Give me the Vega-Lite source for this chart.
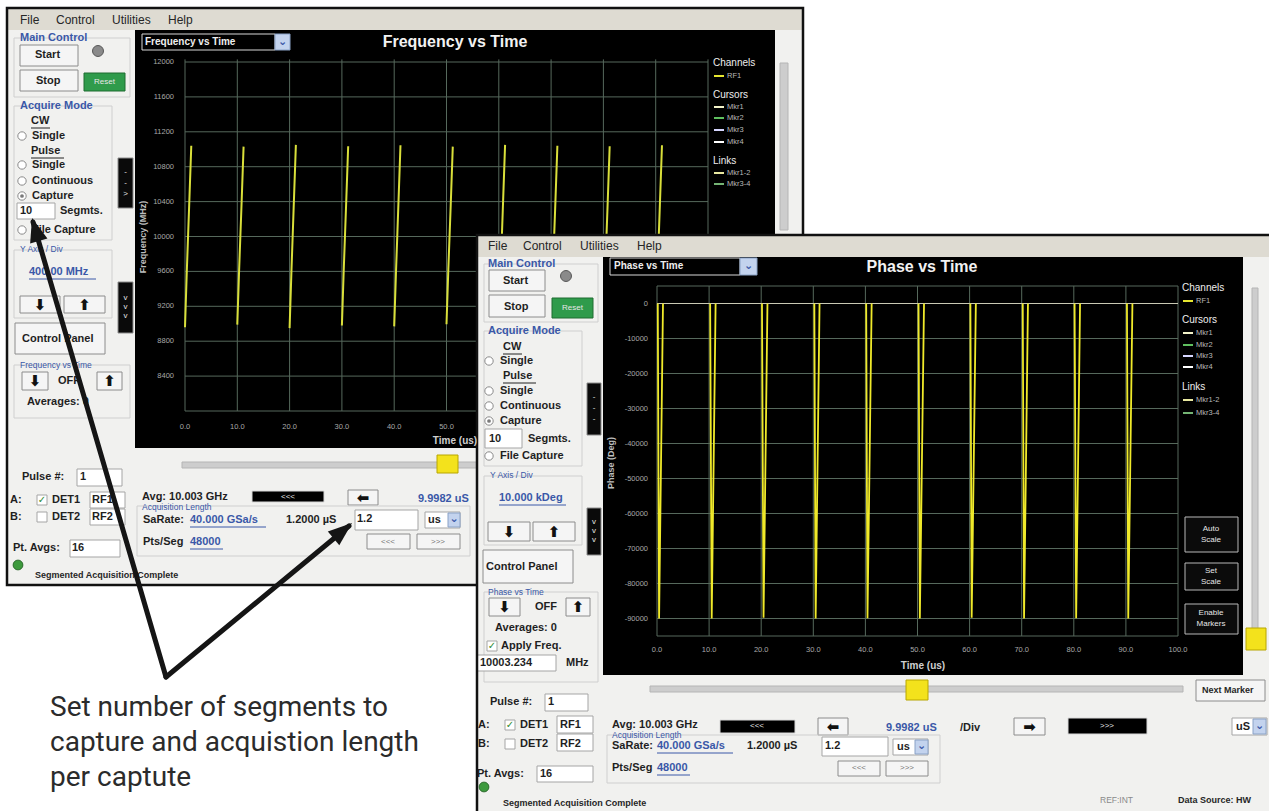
{
"$schema":"https://vega.github.io/schema/vega-lite/v6.json",
"width":1269,"height":811,"padding":0,"autosize":{"type":"none"},
"background":"#ffffff",
"config":{"view":{"stroke":null},"font":"Liberation Sans"},
"resolve":{"scale":{"x":"independent","y":"independent","color":"independent","stroke":"independent"}},
"datasets":{
"w1_rects":[
{"x":7,"y":8,"x2":803,"y2":585,"k":"win"},
{"x":8,"y":9,"x2":802,"y2":30,"k":"menu"},
{"x":135,"y":30,"x2":775,"y2":448,"k":"plot"},
{"x":780,"y":63,"x2":788,"y2":230,"k":"track"},
{"x":14,"y":38,"x2":130,"y2":97,"k":"grp"},
{"x":14,"y":106,"x2":112,"y2":240,"k":"grp"},
{"x":14,"y":250,"x2":112,"y2":318,"k":"grp"},
{"x":14,"y":365,"x2":130,"y2":418,"k":"grp"},
{"x":20,"y":45,"x2":78,"y2":66,"k":"btn"},
{"x":20,"y":70,"x2":78,"y2":91,"k":"btn"},
{"x":84,"y":73,"x2":125,"y2":91,"k":"green"},
{"x":17,"y":203,"x2":55,"y2":219,"k":"input"},
{"x":20,"y":296,"x2":60,"y2":313,"k":"btn"},
{"x":64,"y":296,"x2":105,"y2":313,"k":"btn"},
{"x":15,"y":323,"x2":105,"y2":354,"k":"btn"},
{"x":22,"y":372,"x2":48,"y2":390,"k":"btn"},
{"x":97,"y":372,"x2":122,"y2":390,"k":"btn"},
{"x":77,"y":469,"x2":122,"y2":486,"k":"input"},
{"x":37,"y":495,"x2":47,"y2":505,"k":"input"},
{"x":37,"y":512,"x2":47,"y2":522,"k":"input"},
{"x":90,"y":492,"x2":125,"y2":508,"k":"input"},
{"x":90,"y":509,"x2":125,"y2":525,"k":"input"},
{"x":70,"y":540,"x2":120,"y2":557,"k":"input"},
{"x":118,"y":158,"x2":133,"y2":208,"k":"tab"},
{"x":118,"y":282,"x2":133,"y2":333,"k":"tab"},
{"x":142,"y":34,"x2":275,"y2":50,"k":"dark"},
{"x":275,"y":34,"x2":290,"y2":50,"k":"dd"},
{"x":182,"y":462,"x2":800,"y2":468,"k":"track"},
{"x":437,"y":455,"x2":458,"y2":473,"k":"thumb"},
{"x":252,"y":491,"x2":324,"y2":502,"k":"dark"},
{"x":348,"y":490,"x2":378,"y2":505,"k":"btn"},
{"x":137,"y":506,"x2":470,"y2":556,"k":"grp"},
{"x":355,"y":510,"x2":418,"y2":530,"k":"input"},
{"x":425,"y":512,"x2":460,"y2":528,"k":"input"},
{"x":448,"y":513,"x2":460,"y2":527,"k":"dd"},
{"x":367,"y":534,"x2":410,"y2":549,"k":"btn"},
{"x":417,"y":534,"x2":460,"y2":549,"k":"btn"}
],
"w2_rects":[
{"x":477,"y":235,"x2":1275,"y2":815,"k":"win"},
{"x":478,"y":236,"x2":1269,"y2":257,"k":"menu"},
{"x":603,"y":257,"x2":1243,"y2":675,"k":"plot"},
{"x":1252,"y":288,"x2":1258,"y2":642,"k":"track"},
{"x":1246,"y":628,"x2":1266,"y2":650,"k":"thumb"},
{"x":484,"y":264,"x2":598,"y2":322,"k":"grp"},
{"x":484,"y":331,"x2":582,"y2":466,"k":"grp"},
{"x":484,"y":476,"x2":582,"y2":545,"k":"grp"},
{"x":484,"y":592,"x2":598,"y2":682,"k":"grp"},
{"x":489,"y":270,"x2":545,"y2":291,"k":"btn"},
{"x":489,"y":295,"x2":545,"y2":317,"k":"btn"},
{"x":552,"y":298,"x2":593,"y2":318,"k":"green"},
{"x":485,"y":429,"x2":522,"y2":448,"k":"input"},
{"x":488,"y":522,"x2":530,"y2":541,"k":"btn"},
{"x":533,"y":522,"x2":575,"y2":541,"k":"btn"},
{"x":483,"y":550,"x2":573,"y2":583,"k":"btn"},
{"x":489,"y":598,"x2":520,"y2":616,"k":"btn"},
{"x":566,"y":598,"x2":590,"y2":616,"k":"btn"},
{"x":487,"y":641,"x2":497,"y2":651,"k":"input"},
{"x":477,"y":655,"x2":556,"y2":671,"k":"input"},
{"x":545,"y":694,"x2":588,"y2":711,"k":"input"},
{"x":505,"y":720,"x2":515,"y2":730,"k":"input"},
{"x":505,"y":739,"x2":515,"y2":749,"k":"input"},
{"x":557,"y":716,"x2":593,"y2":733,"k":"input"},
{"x":557,"y":734,"x2":593,"y2":751,"k":"input"},
{"x":537,"y":766,"x2":593,"y2":782,"k":"input"},
{"x":587,"y":383,"x2":601,"y2":435,"k":"tab"},
{"x":587,"y":508,"x2":601,"y2":555,"k":"tab"},
{"x":610,"y":258,"x2":740,"y2":275,"k":"dark"},
{"x":740,"y":258,"x2":757,"y2":275,"k":"dd"},
{"x":650,"y":686,"x2":1183,"y2":692,"k":"track"},
{"x":906,"y":680,"x2":928,"y2":700,"k":"thumb"},
{"x":1196,"y":680,"x2":1265,"y2":701,"k":"btn"},
{"x":720,"y":720,"x2":795,"y2":733,"k":"dark"},
{"x":818,"y":718,"x2":848,"y2":735,"k":"btn"},
{"x":1014,"y":718,"x2":1045,"y2":735,"k":"btn"},
{"x":1068,"y":718,"x2":1147,"y2":734,"k":"dark"},
{"x":1232,"y":718,"x2":1267,"y2":735,"k":"input"},
{"x":1253,"y":719,"x2":1266,"y2":734,"k":"dd"},
{"x":607,"y":735,"x2":940,"y2":783,"k":"grp"},
{"x":822,"y":737,"x2":888,"y2":756,"k":"input"},
{"x":893,"y":739,"x2":928,"y2":755,"k":"input"},
{"x":915,"y":740,"x2":928,"y2":754,"k":"dd"},
{"x":838,"y":761,"x2":880,"y2":776,"k":"btn"},
{"x":886,"y":761,"x2":928,"y2":776,"k":"btn"},
{"x":1185,"y":517,"x2":1238,"y2":552,"k":"pbtn"},
{"x":1185,"y":563,"x2":1238,"y2":590,"k":"pbtn"},
{"x":1185,"y":604,"x2":1238,"y2":634,"k":"pbtn"}
],
"tgrid":[{"t":0,"lab":"0.0"},{"t":10,"lab":"10.0"},{"t":20,"lab":"20.0"},{"t":30,"lab":"30.0"},{"t":40,"lab":"40.0"},{"t":50,"lab":"50.0"},{"t":60,"lab":"60.0"},{"t":70,"lab":"70.0"},{"t":80,"lab":"80.0"},{"t":90,"lab":"90.0"},{"t":100,"lab":"100.0"}],
"fgrid":[{"f":8000,"lab":""},{"f":8400,"lab":"8400"},{"f":8800,"lab":"8800"},{"f":9200,"lab":"9200"},{"f":9600,"lab":"9600"},{"f":10000,"lab":"10000"},{"f":10400,"lab":"10400"},{"f":10800,"lab":"10800"},{"f":11200,"lab":"11200"},{"f":11600,"lab":"11600"},{"f":12000,"lab":"12000"}],
"pgrid":[{"p":-95000,"lab":""},{"p":-90000,"lab":"-90000"},{"p":-80000,"lab":"-80000"},{"p":-70000,"lab":"-70000"},{"p":-60000,"lab":"-60000"},{"p":-50000,"lab":"-50000"},{"p":-40000,"lab":"-40000"},{"p":-30000,"lab":"-30000"},{"p":-20000,"lab":"-20000"},{"p":-10000,"lab":"-10000"},{"p":5000,"lab":""}],
"freq":[
{"s":0,"t":0,"f":8960},{"s":0,"t":0.35,"f":9610},{"s":0,"t":0.8,"f":10360},{"s":0,"t":1.2,"f":11040},
{"s":1,"t":10,"f":8990},{"s":1,"t":10.35,"f":9620},{"s":1,"t":10.8,"f":10350},{"s":1,"t":11.2,"f":11030},
{"s":2,"t":20,"f":8950},{"s":2,"t":20.35,"f":9600},{"s":2,"t":20.8,"f":10370},{"s":2,"t":21.2,"f":11050},
{"s":3,"t":30,"f":8980},{"s":3,"t":30.35,"f":9615},{"s":3,"t":30.8,"f":10355},{"s":3,"t":31.2,"f":11035},
{"s":4,"t":40,"f":8970},{"s":4,"t":40.35,"f":9605},{"s":4,"t":40.8,"f":10365},{"s":4,"t":41.2,"f":11045},
{"s":5,"t":50,"f":8995},{"s":5,"t":50.35,"f":9625},{"s":5,"t":50.8,"f":10350},{"s":5,"t":51.2,"f":11030},
{"s":6,"t":60,"f":8960},{"s":6,"t":60.35,"f":9600},{"s":6,"t":60.8,"f":10370},{"s":6,"t":61.2,"f":11050},
{"s":7,"t":70,"f":8985},{"s":7,"t":70.35,"f":9615},{"s":7,"t":70.8,"f":10360},{"s":7,"t":71.2,"f":11040},
{"s":8,"t":80,"f":8975},{"s":8,"t":80.35,"f":9610},{"s":8,"t":80.8,"f":10355},{"s":8,"t":81.2,"f":11035},
{"s":9,"t":90,"f":8965},{"s":9,"t":90.35,"f":9605},{"s":9,"t":90.8,"f":10365},{"s":9,"t":91.2,"f":11045}
],
"phase":[
{"s":0,"t":0.15,"p":0},{"s":0,"t":0.4,"p":-90000},{"s":0,"t":1.15,"p":0},
{"s":1,"t":10.2,"p":0},{"s":1,"t":10.5,"p":-90000},{"s":1,"t":11.25,"p":0},
{"s":2,"t":20.15,"p":0},{"s":2,"t":20.45,"p":-89800},{"s":2,"t":21.2,"p":0},
{"s":3,"t":30.2,"p":0},{"s":3,"t":30.45,"p":-90000},{"s":3,"t":31.2,"p":0},
{"s":4,"t":40.15,"p":0},{"s":4,"t":40.4,"p":-89900},{"s":4,"t":41.2,"p":0},
{"s":5,"t":50.2,"p":0},{"s":5,"t":50.45,"p":-90000},{"s":5,"t":51.25,"p":0},
{"s":6,"t":60.15,"p":0},{"s":6,"t":60.4,"p":-89800},{"s":6,"t":61.2,"p":0},
{"s":7,"t":70.2,"p":0},{"s":7,"t":70.45,"p":-90000},{"s":7,"t":71.2,"p":0},
{"s":8,"t":80.15,"p":0},{"s":8,"t":80.45,"p":-89900},{"s":8,"t":81.2,"p":0},
{"s":9,"t":90.2,"p":0},{"s":9,"t":90.45,"p":-90000},{"s":9,"t":91.25,"p":0}
],
"leg_lines":[
{"x":714,"xe":724,"y":76,"c":"RF1"},{"x":714,"xe":724,"y":107,"c":"Mkr1"},{"x":714,"xe":724,"y":118,"c":"Mkr2"},{"x":714,"xe":724,"y":130,"c":"Mkr3"},{"x":714,"xe":724,"y":142,"c":"Mkr4"},{"x":714,"xe":724,"y":173,"c":"Mkr1-2"},{"x":714,"xe":724,"y":184,"c":"Mkr3-4"},
{"x":1183,"xe":1193,"y":301,"c":"RF1"},{"x":1183,"xe":1193,"y":333,"c":"Mkr1"},{"x":1183,"xe":1193,"y":345,"c":"Mkr2"},{"x":1183,"xe":1193,"y":356,"c":"Mkr3"},{"x":1183,"xe":1193,"y":367,"c":"Mkr4"},{"x":1183,"xe":1193,"y":400,"c":"Mkr1-2"},{"x":1183,"xe":1193,"y":413,"c":"Mkr3-4"}
],
"leg_items":[
{"x":727,"y":76,"s":"RF1"},{"x":727,"y":107,"s":"Mkr1"},{"x":727,"y":118,"s":"Mkr2"},{"x":727,"y":130,"s":"Mkr3"},{"x":727,"y":142,"s":"Mkr4"},{"x":727,"y":173,"s":"Mkr1-2"},{"x":727,"y":184,"s":"Mkr3-4"},
{"x":1196,"y":301,"s":"RF1"},{"x":1196,"y":333,"s":"Mkr1"},{"x":1196,"y":345,"s":"Mkr2"},{"x":1196,"y":356,"s":"Mkr3"},{"x":1196,"y":367,"s":"Mkr4"},{"x":1196,"y":400,"s":"Mkr1-2"},{"x":1196,"y":413,"s":"Mkr3-4"}
],
"leg_heads":[
{"x":713,"y":63,"s":"Channels"},{"x":713,"y":95,"s":"Cursors"},{"x":713,"y":161,"s":"Links"},
{"x":1182,"y":288,"s":"Channels"},{"x":1182,"y":320,"s":"Cursors"},{"x":1182,"y":387,"s":"Links"}
],
"t_bold":[
{"x":35,"y":55,"s":"Start"},{"x":36,"y":81,"s":"Stop"},{"x":31,"y":121,"s":"CW"},{"x":32,"y":136,"s":"Single"},{"x":31,"y":151,"s":"Pulse"},{"x":32,"y":165,"s":"Single"},{"x":32,"y":181,"s":"Continuous"},{"x":32,"y":196,"s":"Capture"},{"x":20,"y":211,"s":"10"},{"x":60,"y":211,"s":"Segmts."},{"x":32,"y":230,"s":"File Capture"},{"x":22,"y":339,"s":"Control Panel"},{"x":58,"y":381,"s":"OFF"},{"x":27,"y":402,"s":"Averages: 0"},{"x":22,"y":477,"s":"Pulse #:"},{"x":80,"y":477,"s":"1"},{"x":10,"y":500,"s":"A:"},{"x":52,"y":500,"s":"DET1"},{"x":92,"y":500,"s":"RF1"},{"x":10,"y":517,"s":"B:"},{"x":52,"y":517,"s":"DET2"},{"x":92,"y":517,"s":"RF2"},{"x":13,"y":548,"s":"Pt. Avgs:"},{"x":72,"y":548,"s":"16"},{"x":142,"y":497,"s":"Avg: 10.003 GHz"},{"x":143,"y":520,"s":"SaRate:"},{"x":286,"y":520,"s":"1.2000 µS"},{"x":357,"y":519,"s":"1.2"},{"x":428,"y":520,"s":"us"},{"x":143,"y":542,"s":"Pts/Seg"},
{"x":503,"y":281,"s":"Start"},{"x":504,"y":307,"s":"Stop"},{"x":503,"y":347,"s":"CW"},{"x":500,"y":361,"s":"Single"},{"x":503,"y":376,"s":"Pulse"},{"x":500,"y":391,"s":"Single"},{"x":500,"y":406,"s":"Continuous"},{"x":500,"y":421,"s":"Capture"},{"x":489,"y":439,"s":"10"},{"x":528,"y":439,"s":"Segmts."},{"x":500,"y":456,"s":"File Capture"},{"x":486,"y":567,"s":"Control Panel"},{"x":535,"y":607,"s":"OFF"},{"x":495,"y":628,"s":"Averages: 0"},{"x":501,"y":646,"s":"Apply Freq."},{"x":480,"y":663,"s":"10003.234"},{"x":566,"y":663,"s":"MHz"},{"x":490,"y":702,"s":"Pulse #:"},{"x":548,"y":702,"s":"1"},{"x":478,"y":725,"s":"A:"},{"x":520,"y":725,"s":"DET1"},{"x":560,"y":725,"s":"RF1"},{"x":478,"y":744,"s":"B:"},{"x":520,"y":744,"s":"DET2"},{"x":560,"y":744,"s":"RF2"},{"x":477,"y":774,"s":"Pt. Avgs:"},{"x":540,"y":774,"s":"16"},{"x":612,"y":725,"s":"Avg: 10.003 GHz"},{"x":612,"y":746,"s":"SaRate:"},{"x":747,"y":746,"s":"1.2000 µS"},{"x":825,"y":746,"s":"1.2"},{"x":897,"y":747,"s":"us"},{"x":612,"y":768,"s":"Pts/Seg"},{"x":960,"y":728,"s":"/Div"},{"x":1236,"y":727,"s":"uS"}
],
"t_bold_s":[
{"x":35,"y":575,"s":"Segmented Acquisition Complete"},{"x":503,"y":803,"s":"Segmented Acquisition Complete"},{"x":1202,"y":690,"s":"Next Marker"},{"x":1178,"y":800,"s":"Data Source: HW"}
],
"t_blue":[
{"x":20,"y":38,"s":"Main Control"},{"x":20,"y":106,"s":"Acquire Mode"},{"x":29,"y":272,"s":"400.00 MHz"},{"x":190,"y":520,"s":"40.000 GSa/s"},{"x":190,"y":542,"s":"48000"},{"x":418,"y":499,"s":"9.9982 uS"},
{"x":488,"y":264,"s":"Main Control"},{"x":488,"y":331,"s":"Acquire Mode"},{"x":499,"y":498,"s":"10.000 kDeg"},{"x":657,"y":746,"s":"40.000 GSa/s"},{"x":657,"y":768,"s":"48000"},{"x":886,"y":728,"s":"9.9982 uS"}
],
"t_blue_s":[
{"x":20,"y":249,"s":"Y Axis / Div"},{"x":20,"y":365,"s":"Frequency vs Time"},{"x":142,"y":507,"s":"Acquisition Length"},
{"x":490,"y":475,"s":"Y Axis / Div"},{"x":488,"y":592,"s":"Phase vs Time"},{"x":612,"y":735,"s":"Acquisition Length"}
],
"t_menu":[
{"x":20,"y":20,"s":"File"},{"x":56,"y":20,"s":"Control"},{"x":112,"y":20,"s":"Utilities"},{"x":168,"y":20,"s":"Help"},
{"x":488,"y":246,"s":"File"},{"x":523,"y":246,"s":"Control"},{"x":580,"y":246,"s":"Utilities"},{"x":637,"y":246,"s":"Help"}
],
"t_title":[{"x":455,"y":42,"s":"Frequency vs Time"},{"x":922,"y":267,"s":"Phase vs Time"}],
"t_dd":[{"x":145,"y":42,"s":"Frequency vs Time"},{"x":614,"y":266,"s":"Phase vs Time"}],
"t_ddv":[{"x":282.5,"y":42,"s":"⌄"},{"x":748.5,"y":266,"s":"⌄"},{"x":454,"y":519,"s":"⌄"},{"x":921.5,"y":746,"s":"⌄"},{"x":1259.5,"y":726,"s":"⌄"}],
"t_wc":[
{"x":104.5,"y":82,"s":"Reset"},{"x":572.5,"y":308,"s":"Reset"},{"x":288,"y":497,"s":"<<<"},{"x":757,"y":726,"s":"<<<"},{"x":1107,"y":726,"s":">>>"},
{"x":1211,"y":529,"s":"Auto"},{"x":1211,"y":540,"s":"Scale"},{"x":1211,"y":571,"s":"Set"},{"x":1211,"y":582,"s":"Scale"},{"x":1211,"y":613,"s":"Enable"},{"x":1211,"y":624,"s":"Markers"},
{"x":125.5,"y":172,"s":"-"},{"x":125.5,"y":183,"s":"-"},{"x":125.5,"y":194,"s":">"},{"x":125.5,"y":298,"s":"v"},{"x":125.5,"y":307,"s":"v"},{"x":125.5,"y":316,"s":"v"},
{"x":594,"y":397,"s":"-"},{"x":594,"y":408,"s":"-"},{"x":594,"y":419,"s":"-"},{"x":594,"y":522,"s":"v"},{"x":594,"y":531,"s":"v"},{"x":594,"y":540,"s":"v"}
],
"t_gc":[{"x":388,"y":542,"s":"<<<"},{"x":438,"y":542,"s":">>>"},{"x":859,"y":768,"s":"<<<"},{"x":907,"y":768,"s":">>>"}],
"t_arrow":[
{"x":40,"y":305,"s":"⬇"},{"x":84.5,"y":305,"s":"⬆"},{"x":35,"y":381,"s":"⬇"},{"x":109.5,"y":381,"s":"⬆"},{"x":363,"y":497.5,"s":"⬅"},
{"x":509,"y":531.5,"s":"⬇"},{"x":554,"y":531.5,"s":"⬆"},{"x":504.5,"y":607,"s":"⬇"},{"x":578,"y":607,"s":"⬆"},{"x":833,"y":726.5,"s":"⬅"},{"x":1029.5,"y":726.5,"s":"➡"}
],
"t_check":[{"x":42,"y":500,"s":"✓"},{"x":492,"y":646,"s":"✓"},{"x":510,"y":725,"s":"✓"}],
"t_axis":[{"x":455,"y":441,"s":"Time (us)"},{"x":923,"y":666,"s":"Time (us)"}],
"t_rot":[{"x":143,"y":237,"s":"Frequency (MHz)"},{"x":611,"y":463,"s":"Phase (Deg)"}],
"underlines":[
{"x":31,"xe":50,"y":128,"c":"d"},{"x":31,"xe":64,"y":158,"c":"d"},{"x":29,"xe":96,"y":279,"c":"b"},{"x":190,"xe":266,"y":527,"c":"b"},{"x":190,"xe":223,"y":549,"c":"b"},
{"x":503,"xe":522,"y":354,"c":"d"},{"x":503,"xe":536,"y":383,"c":"d"},{"x":499,"xe":566,"y":505,"c":"b"},{"x":657,"xe":733,"y":753,"c":"b"},{"x":657,"xe":690,"y":775,"c":"b"}
],
"radio":[{"x":22,"y":136},{"x":22,"y":165},{"x":22,"y":181},{"x":22,"y":196},{"x":22,"y":230},{"x":489,"y":361},{"x":489,"y":391},{"x":489,"y":406},{"x":489,"y":421},{"x":489,"y":456}],
"radio_on":[{"x":22,"y":196},{"x":489,"y":421}],
"led_gray":[{"x":98,"y":51},{"x":566,"y":276}],
"led_green":[{"x":18,"y":565},{"x":484,"y":787}],
"arrows":[{"x":166,"y":677,"x2":33,"y2":222},{"x":166,"y":677,"x2":349,"y2":526}],
"note":[{"x":50,"y":716,"s":"Set number of segments to"},{"x":50,"y":751,"s":"capture and acquistion length"},{"x":50,"y":786,"s":"per captute"}]
},
"layer":[
{"data":{"name":"w1_rects"},"mark":{"type":"rect","strokeWidth":1,"opacity":1},
 "encoding":{
  "x":{"field":"x","type":"quantitative","scale":{"domain":[0,1269],"range":[0,1269],"nice":false,"zero":false},"axis":null},
  "y":{"field":"y","type":"quantitative","scale":{"domain":[0,811],"range":[0,811],"nice":false,"zero":false},"axis":null},
  "x2":{"field":"x2"},"y2":{"field":"y2"},
  "color":{"field":"k","type":"nominal","legend":null,"scale":{"domain":["win","menu","plot","grp","btn","green","input","tab","dark","dd","track","thumb","pbtn"],"range":["#f1f1ef","#dedbd2","#000000","transparent","#f5f5f5","#2f9b4b","#ffffff","#0a0a0a","#000000","#c3d3ee","#cdcdcd","#f3e21c","#0b0b0b"]}},
  "stroke":{"field":"k","type":"nominal","legend":null,"scale":{"domain":["win","menu","plot","grp","btn","green","input","tab","dark","dd","track","thumb","pbtn"],"range":["#1a1a1a","transparent","transparent","#cfcfcf","#8c8c8c","#1e6c31","#a5a5a5","#8c8c8c","#d8d8d8","#8aa2c6","#b5b5b5","#b8a600","#b8b8b8"]}}
 }},
{"data":{"name":"w1_rects"},"transform":[{"filter":"datum.k == 'win'"}],"mark":{"type":"rect","filled":false,"stroke":"#111111","strokeWidth":2.5},
 "encoding":{
  "x":{"field":"x","type":"quantitative","scale":{"domain":[0,1269],"range":[0,1269],"nice":false,"zero":false},"axis":null},
  "y":{"field":"y","type":"quantitative","scale":{"domain":[0,811],"range":[0,811],"nice":false,"zero":false},"axis":null},
  "x2":{"field":"x2"},"y2":{"field":"y2"}}},
{"data":{"name":"tgrid"},"mark":{"type":"rule","color":"#56695c","strokeWidth":1},
 "encoding":{
  "x":{"field":"t","type":"quantitative","scale":{"domain":[0,100],"range":[185,708],"nice":false,"zero":false},"axis":null},
  "y":{"datum":8000,"type":"quantitative","scale":{"domain":[8000,12000],"range":[411,62],"nice":false,"zero":false},"axis":null},
  "y2":{"datum":12030}}},
{"data":{"name":"fgrid"},"mark":{"type":"rule","color":"#56695c","strokeWidth":1},
 "encoding":{
  "y":{"field":"f","type":"quantitative","scale":{"domain":[8000,12000],"range":[411,62],"nice":false,"zero":false},"axis":null},
  "x":{"datum":0,"type":"quantitative","scale":{"domain":[0,100],"range":[185,708],"nice":false,"zero":false},"axis":null},
  "x2":{"datum":100}}},
{"data":{"name":"fgrid"},"mark":{"type":"text","align":"right","baseline":"middle","dx":-11,"fontSize":7.5,"color":"#a9a9a9"},
 "encoding":{
  "y":{"field":"f","type":"quantitative","scale":{"domain":[8000,12000],"range":[411,62],"nice":false,"zero":false},"axis":null},
  "x":{"datum":0,"type":"quantitative","scale":{"domain":[0,100],"range":[185,708],"nice":false,"zero":false},"axis":null},
  "text":{"field":"lab"}}},
{"data":{"name":"tgrid"},"transform":[{"filter":"datum.t <= 50"}],"mark":{"type":"text","align":"center","baseline":"middle","dy":16,"fontSize":7.5,"color":"#a9a9a9"},
 "encoding":{
  "x":{"field":"t","type":"quantitative","scale":{"domain":[0,100],"range":[185,708],"nice":false,"zero":false},"axis":null},
  "y":{"datum":8000,"type":"quantitative","scale":{"domain":[8000,12000],"range":[411,62],"nice":false,"zero":false},"axis":null},
  "text":{"field":"lab"}}},
{"data":{"name":"freq"},"mark":{"type":"line","color":"#d9df3a","strokeWidth":2},
 "encoding":{
  "x":{"field":"t","type":"quantitative","scale":{"domain":[0,100],"range":[185,708],"nice":false,"zero":false},"axis":null},
  "y":{"field":"f","type":"quantitative","scale":{"domain":[8000,12000],"range":[411,62],"nice":false,"zero":false},"axis":null},
  "detail":{"field":"s","type":"nominal"}}},
{"data":{"name":"w2_rects"},"mark":{"type":"rect","strokeWidth":1,"opacity":1},
 "encoding":{
  "x":{"field":"x","type":"quantitative","scale":{"domain":[0,1269],"range":[0,1269],"nice":false,"zero":false},"axis":null},
  "y":{"field":"y","type":"quantitative","scale":{"domain":[0,811],"range":[0,811],"nice":false,"zero":false},"axis":null},
  "x2":{"field":"x2"},"y2":{"field":"y2"},
  "color":{"field":"k","type":"nominal","legend":null,"scale":{"domain":["win","menu","plot","grp","btn","green","input","tab","dark","dd","track","thumb","pbtn"],"range":["#f1f1ef","#dedbd2","#000000","transparent","#f5f5f5","#2f9b4b","#ffffff","#0a0a0a","#000000","#c3d3ee","#cdcdcd","#f3e21c","#0b0b0b"]}},
  "stroke":{"field":"k","type":"nominal","legend":null,"scale":{"domain":["win","menu","plot","grp","btn","green","input","tab","dark","dd","track","thumb","pbtn"],"range":["#1a1a1a","transparent","transparent","#cfcfcf","#8c8c8c","#1e6c31","#a5a5a5","#8c8c8c","#d8d8d8","#8aa2c6","#b5b5b5","#b8a600","#b8b8b8"]}}
 }},
{"data":{"name":"w2_rects"},"transform":[{"filter":"datum.k == 'win'"}],"mark":{"type":"rect","filled":false,"stroke":"#111111","strokeWidth":2.5},
 "encoding":{
  "x":{"field":"x","type":"quantitative","scale":{"domain":[0,1269],"range":[0,1269],"nice":false,"zero":false},"axis":null},
  "y":{"field":"y","type":"quantitative","scale":{"domain":[0,811],"range":[0,811],"nice":false,"zero":false},"axis":null},
  "x2":{"field":"x2"},"y2":{"field":"y2"}}},
{"data":{"name":"tgrid"},"mark":{"type":"rule","color":"#56695c","strokeWidth":1},
 "encoding":{
  "x":{"field":"t","type":"quantitative","scale":{"domain":[0,100],"range":[657,1178],"nice":false,"zero":false},"axis":null},
  "y":{"datum":-95000,"type":"quantitative","scale":{"domain":[-95000,5000],"range":[636,286],"nice":false,"zero":false},"axis":null},
  "y2":{"datum":5000}}},
{"data":{"name":"pgrid"},"mark":{"type":"rule","color":"#56695c","strokeWidth":1},
 "encoding":{
  "y":{"field":"p","type":"quantitative","scale":{"domain":[-95000,5000],"range":[636,286],"nice":false,"zero":false},"axis":null},
  "x":{"datum":0,"type":"quantitative","scale":{"domain":[0,100],"range":[657,1178],"nice":false,"zero":false},"axis":null},
  "x2":{"datum":100}}},
{"data":{"values":[{"p":0,"lab":"0"}]},"mark":{"type":"rule","color":"#c9c9b4","strokeWidth":1.2},
 "encoding":{
  "y":{"field":"p","type":"quantitative","scale":{"domain":[-95000,5000],"range":[636,286],"nice":false,"zero":false},"axis":null},
  "x":{"datum":0,"type":"quantitative","scale":{"domain":[0,100],"range":[657,1178],"nice":false,"zero":false},"axis":null},
  "x2":{"datum":100}}},
{"data":{"name":"pgrid"},"mark":{"type":"text","align":"right","baseline":"middle","dx":-9,"fontSize":7.5,"color":"#a9a9a9"},
 "encoding":{
  "y":{"field":"p","type":"quantitative","scale":{"domain":[-95000,5000],"range":[636,286],"nice":false,"zero":false},"axis":null},
  "x":{"datum":0,"type":"quantitative","scale":{"domain":[0,100],"range":[657,1178],"nice":false,"zero":false},"axis":null},
  "text":{"field":"lab"}}},
{"data":{"values":[{"p":0,"lab":"0"}]},"mark":{"type":"text","align":"right","baseline":"middle","dx":-9,"fontSize":7.5,"color":"#a9a9a9"},
 "encoding":{
  "y":{"field":"p","type":"quantitative","scale":{"domain":[-95000,5000],"range":[636,286],"nice":false,"zero":false},"axis":null},
  "x":{"datum":0,"type":"quantitative","scale":{"domain":[0,100],"range":[657,1178],"nice":false,"zero":false},"axis":null},
  "text":{"field":"lab"}}},
{"data":{"name":"tgrid"},"mark":{"type":"text","align":"center","baseline":"middle","dy":14,"fontSize":7.5,"color":"#a9a9a9"},
 "encoding":{
  "x":{"field":"t","type":"quantitative","scale":{"domain":[0,100],"range":[657,1178],"nice":false,"zero":false},"axis":null},
  "y":{"datum":-95000,"type":"quantitative","scale":{"domain":[-95000,5000],"range":[636,286],"nice":false,"zero":false},"axis":null},
  "text":{"field":"lab"}}},
{"data":{"name":"phase"},"mark":{"type":"line","color":"#efe92a","strokeWidth":1.8},
 "encoding":{
  "x":{"field":"t","type":"quantitative","scale":{"domain":[0,100],"range":[657,1178],"nice":false,"zero":false},"axis":null},
  "y":{"field":"p","type":"quantitative","scale":{"domain":[-95000,5000],"range":[636,286],"nice":false,"zero":false},"axis":null},
  "detail":{"field":"s","type":"nominal"}}},
{"data":{"name":"leg_lines"},"mark":{"type":"rule","strokeWidth":2},
 "encoding":{
  "x":{"field":"x","type":"quantitative","scale":{"domain":[0,1269],"range":[0,1269],"nice":false,"zero":false},"axis":null},
  "y":{"field":"y","type":"quantitative","scale":{"domain":[0,811],"range":[0,811],"nice":false,"zero":false},"axis":null},
  "x2":{"field":"xe"},
  "color":{"field":"c","type":"nominal","legend":null,"scale":{"domain":["RF1","Mkr1","Mkr2","Mkr3","Mkr4","Mkr1-2","Mkr3-4"],"range":["#e6e630","#f2f2c8","#5fbf5f","#d6d6ff","#ffffff","#e8e8a0","#74b474"]}}}},
{"data":{"name":"underlines"},"mark":{"type":"rule","strokeWidth":1},
 "encoding":{
  "x":{"field":"x","type":"quantitative","scale":{"domain":[0,1269],"range":[0,1269],"nice":false,"zero":false},"axis":null},
  "y":{"field":"y","type":"quantitative","scale":{"domain":[0,811],"range":[0,811],"nice":false,"zero":false},"axis":null},
  "x2":{"field":"xe"},
  "color":{"field":"c","type":"nominal","legend":null,"scale":{"domain":["d","b"],"range":["#222222","#3a58a8"]}}}},
{"data":{"name":"radio"},"mark":{"type":"point","shape":"circle","filled":true,"fill":"#ffffff","stroke":"#8a8a8a","strokeWidth":1,"size":70,"opacity":1},
 "encoding":{
  "x":{"field":"x","type":"quantitative","scale":{"domain":[0,1269],"range":[0,1269],"nice":false,"zero":false},"axis":null},
  "y":{"field":"y","type":"quantitative","scale":{"domain":[0,811],"range":[0,811],"nice":false,"zero":false},"axis":null}}},
{"data":{"name":"radio_on"},"mark":{"type":"point","shape":"circle","filled":true,"color":"#7a7a7a","size":14,"opacity":1},
 "encoding":{
  "x":{"field":"x","type":"quantitative","scale":{"domain":[0,1269],"range":[0,1269],"nice":false,"zero":false},"axis":null},
  "y":{"field":"y","type":"quantitative","scale":{"domain":[0,811],"range":[0,811],"nice":false,"zero":false},"axis":null}}},
{"data":{"name":"led_gray"},"mark":{"type":"point","shape":"circle","filled":true,"color":"#8a8a8a","stroke":"#555555","strokeWidth":1,"size":120,"opacity":1},
 "encoding":{
  "x":{"field":"x","type":"quantitative","scale":{"domain":[0,1269],"range":[0,1269],"nice":false,"zero":false},"axis":null},
  "y":{"field":"y","type":"quantitative","scale":{"domain":[0,811],"range":[0,811],"nice":false,"zero":false},"axis":null}}},
{"data":{"name":"led_green"},"mark":{"type":"point","shape":"circle","filled":true,"color":"#3d9a3d","stroke":"#2a6a2a","strokeWidth":1,"size":95,"opacity":1},
 "encoding":{
  "x":{"field":"x","type":"quantitative","scale":{"domain":[0,1269],"range":[0,1269],"nice":false,"zero":false},"axis":null},
  "y":{"field":"y","type":"quantitative","scale":{"domain":[0,811],"range":[0,811],"nice":false,"zero":false},"axis":null}}},
{"data":{"name":"t_bold"},"mark":{"type":"text","align":"left","baseline":"middle","fontSize":11,"fontWeight":"bold","color":"#1f1f1f"},
 "encoding":{
  "x":{"field":"x","type":"quantitative","scale":{"domain":[0,1269],"range":[0,1269],"nice":false,"zero":false},"axis":null},
  "y":{"field":"y","type":"quantitative","scale":{"domain":[0,811],"range":[0,811],"nice":false,"zero":false},"axis":null},
  "text":{"field":"s"}}},
{"data":{"name":"t_bold_s"},"mark":{"type":"text","align":"left","baseline":"middle","fontSize":9,"fontWeight":"bold","color":"#262626"},
 "encoding":{
  "x":{"field":"x","type":"quantitative","scale":{"domain":[0,1269],"range":[0,1269],"nice":false,"zero":false},"axis":null},
  "y":{"field":"y","type":"quantitative","scale":{"domain":[0,811],"range":[0,811],"nice":false,"zero":false},"axis":null},
  "text":{"field":"s"}}},
{"data":{"name":"t_blue"},"mark":{"type":"text","align":"left","baseline":"middle","fontSize":11,"fontWeight":"bold","color":"#3a58a8"},
 "encoding":{
  "x":{"field":"x","type":"quantitative","scale":{"domain":[0,1269],"range":[0,1269],"nice":false,"zero":false},"axis":null},
  "y":{"field":"y","type":"quantitative","scale":{"domain":[0,811],"range":[0,811],"nice":false,"zero":false},"axis":null},
  "text":{"field":"s"}}},
{"data":{"name":"t_blue_s"},"mark":{"type":"text","align":"left","baseline":"middle","fontSize":8.5,"color":"#3a58a8"},
 "encoding":{
  "x":{"field":"x","type":"quantitative","scale":{"domain":[0,1269],"range":[0,1269],"nice":false,"zero":false},"axis":null},
  "y":{"field":"y","type":"quantitative","scale":{"domain":[0,811],"range":[0,811],"nice":false,"zero":false},"axis":null},
  "text":{"field":"s"}}},
{"data":{"name":"t_menu"},"mark":{"type":"text","align":"left","baseline":"middle","fontSize":12,"color":"#262626"},
 "encoding":{
  "x":{"field":"x","type":"quantitative","scale":{"domain":[0,1269],"range":[0,1269],"nice":false,"zero":false},"axis":null},
  "y":{"field":"y","type":"quantitative","scale":{"domain":[0,811],"range":[0,811],"nice":false,"zero":false},"axis":null},
  "text":{"field":"s"}}},
{"data":{"name":"t_title"},"mark":{"type":"text","align":"center","baseline":"middle","fontSize":16,"fontWeight":"bold","color":"#f2f2f2"},
 "encoding":{
  "x":{"field":"x","type":"quantitative","scale":{"domain":[0,1269],"range":[0,1269],"nice":false,"zero":false},"axis":null},
  "y":{"field":"y","type":"quantitative","scale":{"domain":[0,811],"range":[0,811],"nice":false,"zero":false},"axis":null},
  "text":{"field":"s"}}},
{"data":{"name":"t_dd"},"mark":{"type":"text","align":"left","baseline":"middle","fontSize":10,"fontWeight":"bold","color":"#eeeeee"},
 "encoding":{
  "x":{"field":"x","type":"quantitative","scale":{"domain":[0,1269],"range":[0,1269],"nice":false,"zero":false},"axis":null},
  "y":{"field":"y","type":"quantitative","scale":{"domain":[0,811],"range":[0,811],"nice":false,"zero":false},"axis":null},
  "text":{"field":"s"}}},
{"data":{"name":"t_ddv"},"mark":{"type":"text","align":"center","baseline":"middle","fontSize":11,"font":"DejaVu Sans","fontWeight":"bold","color":"#3a58a8"},
 "encoding":{
  "x":{"field":"x","type":"quantitative","scale":{"domain":[0,1269],"range":[0,1269],"nice":false,"zero":false},"axis":null},
  "y":{"field":"y","type":"quantitative","scale":{"domain":[0,811],"range":[0,811],"nice":false,"zero":false},"axis":null},
  "text":{"field":"s"}}},
{"data":{"name":"leg_heads"},"mark":{"type":"text","align":"left","baseline":"middle","fontSize":10,"color":"#eeeeee"},
 "encoding":{
  "x":{"field":"x","type":"quantitative","scale":{"domain":[0,1269],"range":[0,1269],"nice":false,"zero":false},"axis":null},
  "y":{"field":"y","type":"quantitative","scale":{"domain":[0,811],"range":[0,811],"nice":false,"zero":false},"axis":null},
  "text":{"field":"s"}}},
{"data":{"name":"leg_items"},"mark":{"type":"text","align":"left","baseline":"middle","fontSize":7.5,"color":"#b8b8b8"},
 "encoding":{
  "x":{"field":"x","type":"quantitative","scale":{"domain":[0,1269],"range":[0,1269],"nice":false,"zero":false},"axis":null},
  "y":{"field":"y","type":"quantitative","scale":{"domain":[0,811],"range":[0,811],"nice":false,"zero":false},"axis":null},
  "text":{"field":"s"}}},
{"data":{"name":"t_wc"},"mark":{"type":"text","align":"center","baseline":"middle","fontSize":8,"color":"#e6e6e6"},
 "encoding":{
  "x":{"field":"x","type":"quantitative","scale":{"domain":[0,1269],"range":[0,1269],"nice":false,"zero":false},"axis":null},
  "y":{"field":"y","type":"quantitative","scale":{"domain":[0,811],"range":[0,811],"nice":false,"zero":false},"axis":null},
  "text":{"field":"s"}}},
{"data":{"name":"t_gc"},"mark":{"type":"text","align":"center","baseline":"middle","fontSize":8,"color":"#777777"},
 "encoding":{
  "x":{"field":"x","type":"quantitative","scale":{"domain":[0,1269],"range":[0,1269],"nice":false,"zero":false},"axis":null},
  "y":{"field":"y","type":"quantitative","scale":{"domain":[0,811],"range":[0,811],"nice":false,"zero":false},"axis":null},
  "text":{"field":"s"}}},
{"data":{"name":"t_arrow"},"mark":{"type":"text","align":"center","baseline":"middle","fontSize":15,"font":"DejaVu Sans","fontWeight":"bold","color":"#111111"},
 "encoding":{
  "x":{"field":"x","type":"quantitative","scale":{"domain":[0,1269],"range":[0,1269],"nice":false,"zero":false},"axis":null},
  "y":{"field":"y","type":"quantitative","scale":{"domain":[0,811],"range":[0,811],"nice":false,"zero":false},"axis":null},
  "text":{"field":"s"}}},
{"data":{"name":"t_check"},"mark":{"type":"text","align":"center","baseline":"middle","fontSize":10,"font":"DejaVu Sans","fontWeight":"bold","color":"#2f8a2f"},
 "encoding":{
  "x":{"field":"x","type":"quantitative","scale":{"domain":[0,1269],"range":[0,1269],"nice":false,"zero":false},"axis":null},
  "y":{"field":"y","type":"quantitative","scale":{"domain":[0,811],"range":[0,811],"nice":false,"zero":false},"axis":null},
  "text":{"field":"s"}}},
{"data":{"name":"t_axis"},"mark":{"type":"text","align":"center","baseline":"middle","fontSize":10,"fontWeight":"bold","color":"#cfcfcf"},
 "encoding":{
  "x":{"field":"x","type":"quantitative","scale":{"domain":[0,1269],"range":[0,1269],"nice":false,"zero":false},"axis":null},
  "y":{"field":"y","type":"quantitative","scale":{"domain":[0,811],"range":[0,811],"nice":false,"zero":false},"axis":null},
  "text":{"field":"s"}}},
{"data":{"name":"t_rot"},"mark":{"type":"text","align":"center","baseline":"middle","fontSize":9,"fontWeight":"bold","angle":270,"color":"#bdbdbd"},
 "encoding":{
  "x":{"field":"x","type":"quantitative","scale":{"domain":[0,1269],"range":[0,1269],"nice":false,"zero":false},"axis":null},
  "y":{"field":"y","type":"quantitative","scale":{"domain":[0,811],"range":[0,811],"nice":false,"zero":false},"axis":null},
  "text":{"field":"s"}}},
{"data":{"values":[{"x":1100,"y":800,"s":"REF:INT"}]},"mark":{"type":"text","align":"left","baseline":"middle","fontSize":8.5,"color":"#8a8a8a"},
 "encoding":{
  "x":{"field":"x","type":"quantitative","scale":{"domain":[0,1269],"range":[0,1269],"nice":false,"zero":false},"axis":null},
  "y":{"field":"y","type":"quantitative","scale":{"domain":[0,811],"range":[0,811],"nice":false,"zero":false},"axis":null},
  "text":{"field":"s"}}},
{"data":{"name":"arrows"},"mark":{"type":"rule","color":"#151515","strokeWidth":5,"strokeCap":"round"},
 "encoding":{
  "x":{"field":"x","type":"quantitative","scale":{"domain":[0,1269],"range":[0,1269],"nice":false,"zero":false},"axis":null},
  "y":{"field":"y","type":"quantitative","scale":{"domain":[0,811],"range":[0,811],"nice":false,"zero":false},"axis":null},
  "x2":{"field":"x2"},"y2":{"field":"y2"}}},
{"data":{"values":[{"x":35.4,"y":229.5}]},"mark":{"type":"point","shape":"M0,-1L0.75,1L-0.75,1Z","filled":true,"color":"#151515","size":576,"angle":343.7,"opacity":1},
 "encoding":{
  "x":{"field":"x","type":"quantitative","scale":{"domain":[0,1269],"range":[0,1269],"nice":false,"zero":false},"axis":null},
  "y":{"field":"y","type":"quantitative","scale":{"domain":[0,811],"range":[0,811],"nice":false,"zero":false},"axis":null}}},
{"data":{"values":[{"x":342.8,"y":530.7}]},"mark":{"type":"point","shape":"M0,-1L0.75,1L-0.75,1Z","filled":true,"color":"#151515","size":576,"angle":50.4,"opacity":1},
 "encoding":{
  "x":{"field":"x","type":"quantitative","scale":{"domain":[0,1269],"range":[0,1269],"nice":false,"zero":false},"axis":null},
  "y":{"field":"y","type":"quantitative","scale":{"domain":[0,811],"range":[0,811],"nice":false,"zero":false},"axis":null}}},
{"data":{"name":"note"},"mark":{"type":"text","align":"left","baseline":"alphabetic","fontSize":28,"font":"Roboto","color":"#2b2b2b"},
 "encoding":{
  "x":{"field":"x","type":"quantitative","scale":{"domain":[0,1269],"range":[0,1269],"nice":false,"zero":false},"axis":null},
  "y":{"field":"y","type":"quantitative","scale":{"domain":[0,811],"range":[0,811],"nice":false,"zero":false},"axis":null},
  "text":{"field":"s"}}}
]
}
